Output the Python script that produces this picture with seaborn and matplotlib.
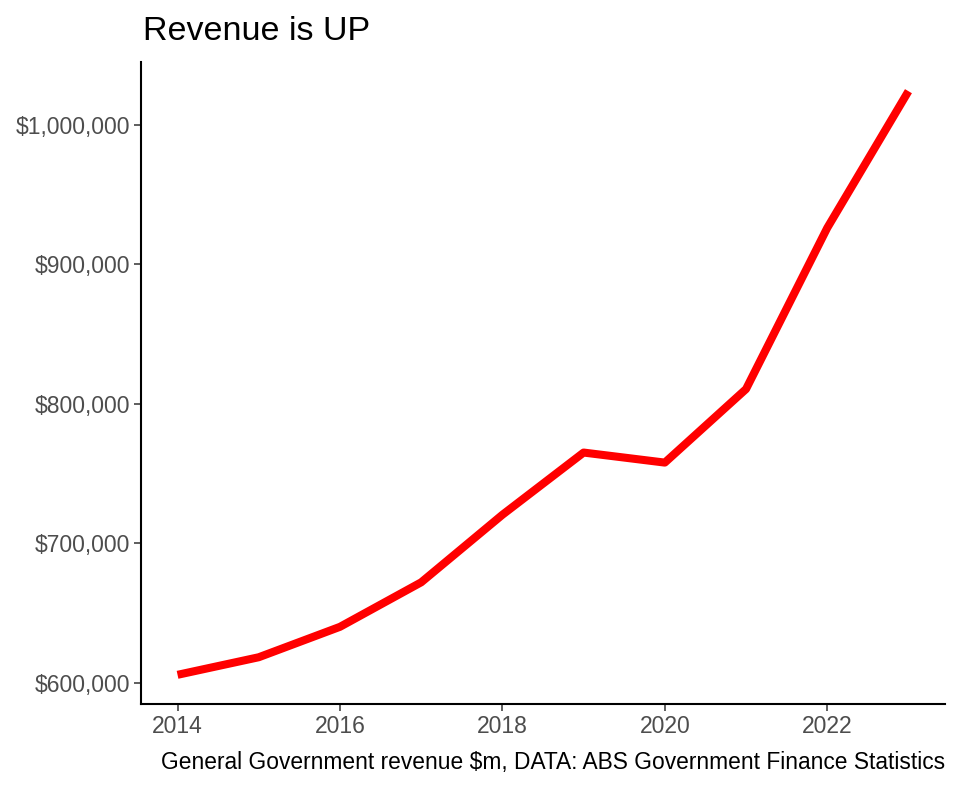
import matplotlib
matplotlib.use("Agg")
import matplotlib.pyplot as plt
import matplotlib.ticker as mticker
import seaborn as sns
import pandas as pd

years = [2014, 2015, 2016, 2017, 2018, 2019, 2020, 2021, 2022, 2023]
revenue = [605700, 618300, 640100, 672000, 720400, 765000, 757800, 810500, 926000, 1024000]
x_ticks = [2014, 2016, 2018, 2020, 2022]
y_ticks = [600000, 700000, 800000, 900000, 1000000]

df = pd.DataFrame({"year": years, "revenue": revenue})

sns.set_theme(style="ticks")
plt.rcParams["font.family"] = ["Liberation Sans", "DejaVu Sans"]

fig = plt.figure(figsize=(9.6, 7.89), dpi=100)
ax = fig.add_axes([141/960, 1-704/789, (945-141)/960, (704-62)/789])

sns.lineplot(data=df, x="year", y="revenue", ax=ax, color="#FF0000", linewidth=5.8,
             solid_capstyle="butt")

xr = max(years) - min(years)
ax.set_xlim(min(years) - 0.05*xr, max(years) + 0.05*xr)
yr = max(revenue) - min(revenue)
ax.set_ylim(min(revenue) - 0.05*yr, max(revenue) + 0.05*yr)

ax.set_xticks(x_ticks)
ax.set_yticks(y_ticks)
ax.yaxis.set_major_formatter(mticker.FuncFormatter(lambda v, p: "${:,.0f}".format(v)))
ax.tick_params(axis="both", labelsize=16.5, labelcolor="#4D4D4D", color="#333333",
               length=5, width=1.1, pad=3)
ax.set_xlabel("")
ax.set_ylabel("")
for s in ["top", "right"]:
    ax.spines[s].set_visible(False)
for s in ["left", "bottom"]:
    ax.spines[s].set_linewidth(1.5)
    ax.spines[s].set_color("black")

fig.text(143/960, 1-40/789, "Revenue is UP", fontsize=24.5, color="black",
         ha="left", va="baseline")
fig.text(945/960, 1-769/789,
         "General Government revenue $m, DATA: ABS Government Finance Statistics",
         fontsize=16.4, color="black", ha="right", va="baseline")

fig.savefig("out.png", dpi=100)
